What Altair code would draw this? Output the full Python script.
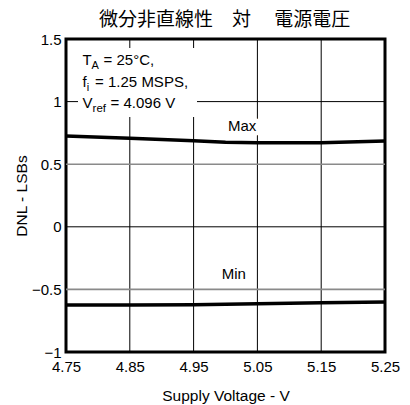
import altair as alt
import pandas as pd

# Supply voltage sweep (V) and measured DNL extremes (LSBs)
supply_v = [4.75, 4.85, 4.95, 5.00, 5.05, 5.15, 5.25]
dnl_max = [0.725, 0.707, 0.688, 0.675, 0.672, 0.672, 0.685]
dnl_min = [-0.625, -0.625, -0.622, -0.618, -0.615, -0.607, -0.600]

x_ticks = [4.75, 4.85, 4.95, 5.05, 5.15, 5.25]
y_ticks = [-1, -0.5, 0, 0.5, 1, 1.5]

FONT = "Liberation Sans"
W, H = 319, 313

curves = pd.DataFrame(
    {"v": supply_v * 2,
     "dnl": dnl_max + dnl_min,
     "series": ["Max"] * len(supply_v) + ["Min"] * len(supply_v)}
)

x_scale = alt.Scale(domain=[4.75, 5.25], nice=False, zero=False)
y_scale = alt.Scale(domain=[-1, 1.5], nice=False, zero=False)

x_axis = alt.Axis(
    values=x_ticks, format=".2f", labelPadding=7, labelFlush=False,
    title="Supply Voltage - V", titlePadding=14,
)
y_axis = alt.Axis(
    values=y_ticks, format="~g", labelPadding=5, labelFlush=False,
    title="DNL - LSBs", titlePadding=2,
)

# Grid: inner verticals, horizontals with the half-LSB lines in grey
vgrid = alt.Chart(pd.DataFrame({"v": x_ticks[1:-1]})).mark_rule(
    color="black", strokeWidth=1
).encode(x=alt.X("v:Q", scale=x_scale))

hgrid_df = pd.DataFrame({"dnl": y_ticks[1:-1]})
hgrid_df["half"] = hgrid_df["dnl"].abs() == 0.5
hgrid = alt.Chart(hgrid_df).mark_rule().encode(
    y=alt.Y("dnl:Q", scale=y_scale),
    color=alt.condition("datum.half", alt.value("#8a8a8a"), alt.value("black")),
    strokeWidth=alt.condition("datum.half", alt.value(1.6), alt.value(1)),
)

lines = alt.Chart(curves).mark_line(color="black", strokeWidth=3.5).encode(
    x=alt.X("v:Q", scale=x_scale, axis=x_axis),
    y=alt.Y("dnl:Q", scale=y_scale, axis=y_axis),
    detail="series:N",
)

# White backing panel behind the test-condition note
note_panel = alt.Chart(pd.DataFrame({"k": [0]})).mark_rect(color="white").encode(
    x=alt.value(12), x2=alt.value(131), y=alt.value(9), y2=alt.value(78),
)

# Curve labels
curve_labels = pd.DataFrame({"v": [5.026, 5.013], "dnl": [0.765, -0.417], "txt": ["Max", "Min"]})

# Test-condition note, split into base text and subscripts
note_x = 4.776
note_rows = [1.29, 1.12, 0.952]
note_txt = ["T", "A", "= 25°C,", "f", "i", "= 1.25 MSPS,", "V", "ref", "= 4.096 V"]
note_size = [15, 11, 15, 15, 11, 15, 15, 11.5, 15]
note_dx = [0, 9.0, 21.0, 0, 4.2, 12.5, 0, 10.0, 28.0]
note_dy = [0, 4, 0, 0, 4, 0, 0, 4, 0]
note_row = [0, 0, 0, 1, 1, 1, 2, 2, 2]


def text_piece(df, align, size, halo=False, dx=0, dy=0):
    kw = dict(font=FONT, align=align, baseline="alphabetic", fill="black",
              fontSize=size, dx=dx, dy=dy)
    if halo:
        kw.update(stroke="white", strokeWidth=9, strokeJoin="round", fill="white")
    return alt.Chart(df).mark_text(**kw).encode(
        x=alt.X("v:Q", scale=x_scale),
        y=alt.Y("dnl:Q", scale=y_scale),
        text="txt:N",
    )


note_layers = []
for t, s, dx, dy, r in zip(note_txt, note_size, note_dx, note_dy, note_row):
    df = pd.DataFrame({"v": [note_x], "dnl": [note_rows[r]], "txt": [t]})
    note_layers.append(text_piece(df, "left", s, False, dx, dy))

label_halo = text_piece(curve_labels, "center", 15, True)
label_ink = text_piece(curve_labels, "center", 15, False)

title = alt.Chart(pd.DataFrame({"t": ["微分非直線性　対　 電源電圧"]})).mark_text(
    font="Noto Sans CJK JP", fontSize=19, align="center", baseline="alphabetic",
    fill="black",
).encode(x=alt.value(W / 2 - 1), y=alt.value(-13), text="t:N")

chart = alt.layer(
    vgrid, hgrid, lines, note_panel, label_halo, label_ink, *note_layers, title,
).properties(
    width=W,
    height=H,
    autosize="none",
    padding={"left": 66, "top": 39, "right": 25, "bottom": 53},
).configure(
    background="white",
).configure_view(
    stroke="black", strokeWidth=3,
).configure_axis(
    grid=False, domain=False, ticks=False,
    labelFont=FONT, labelFontSize=15, labelColor="black",
    titleFont=FONT, titleFontSize=15.5, titleFontWeight="normal", titleColor="black",
)

chart.save("out.html", embed_options={"renderer": "svg", "actions": False})
